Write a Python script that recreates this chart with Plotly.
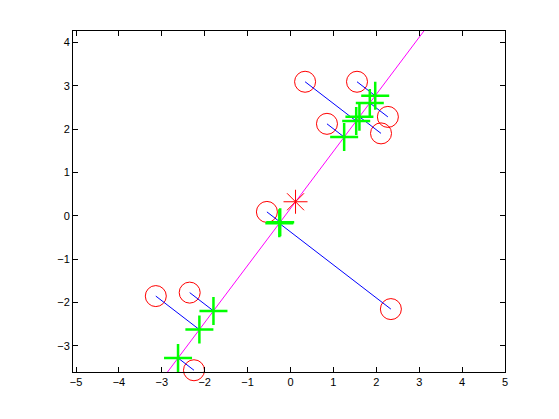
import numpy as np
import plotly.graph_objects as go

# Original data points (red circles)
x_data = [0.34, 1.55, 0.85, 2.27, 2.11, -0.55, 2.34, -3.14, -2.35, -2.25]
y_data = [3.09, 3.09, 2.12, 2.28, 1.90, 0.09, -2.15, -1.85, -1.77, -3.56]

x_ticks = [-5, -4, -3, -2, -1, 0, 1, 2, 3, 4, 5]
y_ticks = [-3, -2, -1, 0, 1, 2, 3, 4]

# PCA: mean, first principal direction, projections
X = np.column_stack([x_data, y_data])
mu = X.mean(axis=0)
Xc = X - mu
_, _, vt = np.linalg.svd(Xc, full_matrices=False)
d = vt[0]
if d[0] < 0:
    d = -d
t = Xc @ d
P = mu + np.outer(t, d)

font = dict(family="Liberation Sans, Arial, sans-serif", size=11, color="black")

fig = go.Figure()

# red circles
fig.add_trace(go.Scatter(x=x_data, y=y_data, mode="markers",
                         marker=dict(symbol="circle-open", size=21, color="red",
                                     line=dict(width=1, color="red")),
                         cliponaxis=False, hoverinfo="skip"))

# blue connecting lines
bx, by = [], []
for i in range(len(x_data)):
    bx += [x_data[i], P[i, 0], None]
    by += [y_data[i], P[i, 1], None]
fig.add_trace(go.Scatter(x=bx, y=by, mode="lines",
                         line=dict(color="blue", width=1), hoverinfo="skip"))

# magenta principal axis line
s = np.array([-10.0, 10.0])
fig.add_trace(go.Scatter(x=mu[0] + s * d[0], y=mu[1] + s * d[1], mode="lines",
                         line=dict(color="magenta", width=1), hoverinfo="skip"))

# mean star
fig.add_trace(go.Scatter(x=[mu[0]], y=[mu[1]], mode="markers",
                         marker=dict(symbol="asterisk-open", size=20, color="red",
                                     line=dict(width=1, color="red")),
                         cliponaxis=False, hoverinfo="skip"))

# green projections
fig.add_trace(go.Scatter(x=P[:, 0], y=P[:, 1], mode="markers",
                         marker=dict(symbol="cross-thin-open", size=20, color="#00ff00",
                                     line=dict(width=2.5, color="#00ff00")),
                         cliponaxis=False, hoverinfo="skip"))

axis_common = dict(showgrid=False, zeroline=False, showline=True, linecolor="black",
                   linewidth=1, mirror="ticks", ticks="inside", ticklen=5,
                   tickcolor="black", tickfont=font, automargin=False)

# page body has an 8px default margin, so the figure is offset by 8px
fig.update_layout(
    width=551, height=411,
    margin=dict(l=65, r=54, t=23, b=47),
    paper_bgcolor="white", plot_bgcolor="white",
    showlegend=False,
    xaxis=dict(range=[-5.07, 5.0], tickvals=x_ticks, **axis_common),
    yaxis=dict(range=[-3.60, 4.26], tickvals=y_ticks, **axis_common),
)

fig.write_html("out.html")
